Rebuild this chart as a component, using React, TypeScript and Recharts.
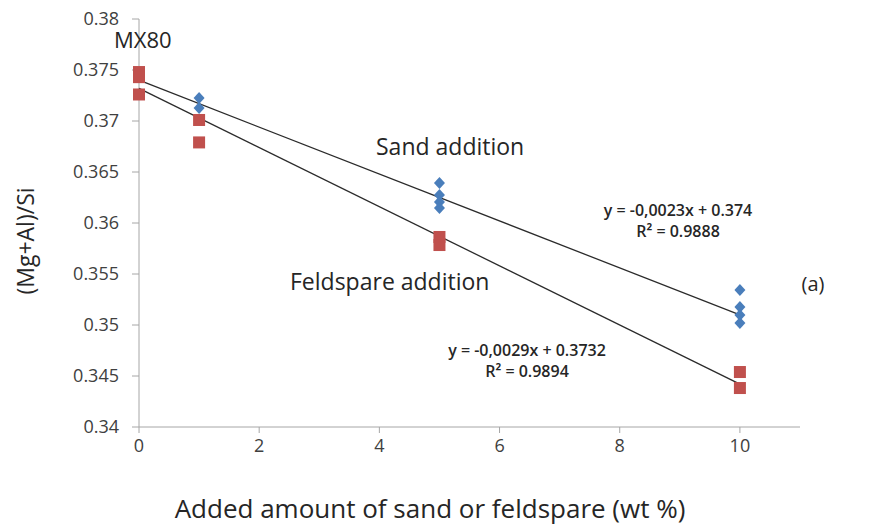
import React from 'react';
import { ScatterChart, Scatter, XAxis, YAxis } from 'recharts';

const sandX = [1, 1, 5, 5, 5, 5, 10, 10, 10, 10];
const sandY = [0.37225, 0.37127, 0.36392, 0.36275, 0.36206, 0.36147, 0.35343, 0.35176, 0.35098, 0.3502];

const feldX = [0, 0, 0, 1, 1, 5, 5, 10, 10];
const feldY = [0.3748, 0.3743, 0.3726, 0.3701, 0.3679, 0.35863, 0.35784, 0.34539, 0.34382];

// trend lines from the printed equations
const sandFitX = [0, 10];
const sandFitY = [0.374, 0.351];
const feldFitX = [0, 10];
const feldFitY = [0.3732, 0.3442];

const xTicks = [0, 2, 4, 6, 8, 10];
const yTicks = [0.34, 0.345, 0.35, 0.355, 0.36, 0.365, 0.37, 0.375, 0.38];

const zip = (xs: number[], ys: number[]) => xs.map((x, i) => ({ x, y: ys[i] }));
const sand = zip(sandX, sandY);
const feld = zip(feldX, feldY);
const sandFit = zip(sandFitX, sandFitY);
const feldFit = zip(feldFitX, feldFitY);

const font = "'Open Sans', 'DejaVu Sans', sans-serif";

const Diamond = (p: any) => (
  <polygon
    points={`${p.cx},${p.cy - 6} ${p.cx + 5.5},${p.cy} ${p.cx},${p.cy + 6} ${p.cx - 5.5},${p.cy}`}
    fill="#4a7ebb"
  />
);

const Square = (p: any) => (
  <rect x={p.cx - 6} y={p.cy - 6} width={12} height={12} fill="#c0504d" />
);

const fmtY = (v: number) => String(Number(v.toFixed(3)));

export default function App() {
  return (
    <div style={{ position: 'absolute', left: 0, top: 0, width: 878, height: 531, background: '#fff' }}>
      <ScatterChart width={878} height={531} margin={{ top: 19, right: 78, bottom: 4, left: 0 }}>
        <XAxis
          type="number"
          dataKey="x"
          domain={[0, 11]}
          ticks={xTicks}
          stroke="#a6a6a6"
          tickSize={6}
          tickMargin={6}
          height={100}
          tick={{ fill: '#404040', fontSize: 18, fontFamily: font }}
        />
        <YAxis
          type="number"
          dataKey="y"
          domain={[0.34, 0.38]}
          ticks={yTicks}
          tickFormatter={fmtY}
          stroke="#a6a6a6"
          tickSize={7}
          tickMargin={13}
          width={139}
          tick={{ fill: '#404040', fontSize: 18, fontFamily: font }}
        />
        <Scatter data={sandFit} line={{ stroke: '#2b2b2b', strokeWidth: 1.3 }} shape={() => null} isAnimationActive={false} />
        <Scatter data={feldFit} line={{ stroke: '#2b2b2b', strokeWidth: 1.3 }} shape={() => null} isAnimationActive={false} />
        <Scatter data={sand} shape={Diamond} isAnimationActive={false} />
        <Scatter data={feld} shape={Square} isAnimationActive={false} />
      </ScatterChart>
      <svg width={878} height={531} style={{ position: 'absolute', left: 0, top: 0, pointerEvents: 'none' }}>
        <g fontFamily={font} fill="#262626">
          <text x={25} y={241} fontSize={23} textAnchor="middle" dominantBaseline="central" transform="rotate(-90 25 241)">(Mg+Al)/Si</text>
          <text x={430} y={518} fontSize={26} textAnchor="middle">Added amount of sand or feldspare (wt %)</text>
          <text x={114} y={48} fontSize={22}>MX80</text>
          <text x={376} y={155} fontSize={23}>Sand addition</text>
          <text x={290} y={290} fontSize={23}>Feldspare addition</text>
          <text x={678} y={216} fontSize={16} fontWeight={600} textAnchor="middle">y = -0,0023x + 0.374</text>
          <text x={678} y={237} fontSize={16} fontWeight={600} textAnchor="middle">R² = 0.9888</text>
          <text x={527} y={356} fontSize={16} fontWeight={600} textAnchor="middle">y = -0,0029x + 0.3732</text>
          <text x={527} y={377} fontSize={16} fontWeight={600} textAnchor="middle">R² = 0.9894</text>
          <text x={813} y={291} fontSize={20} textAnchor="middle">(a)</text>
        </g>
      </svg>
    </div>
  );
}
